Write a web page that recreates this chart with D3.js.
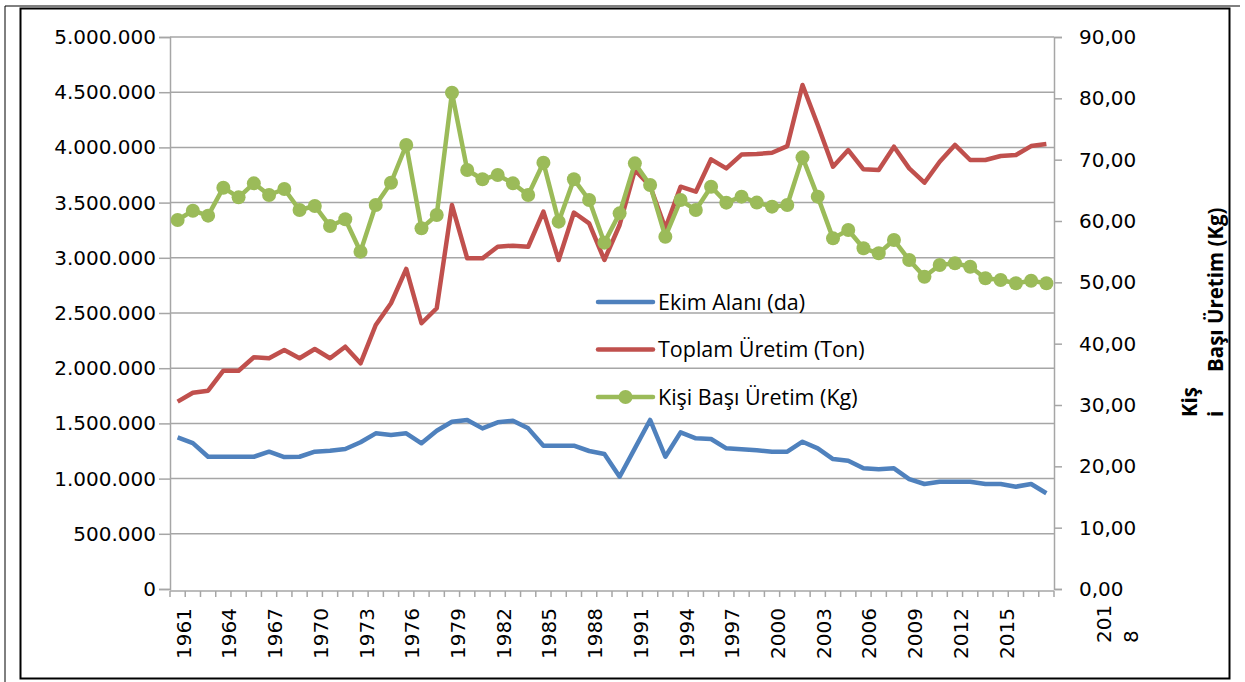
<!DOCTYPE html>
<html>
<head>
<meta charset="utf-8">
<script src="https://cdn.jsdelivr.net/npm/d3@7"></script>
<style>
  body { margin: 0; background: #fff; }
  svg { display: block; }
</style>
</head>
<body>
<svg id="chart" width="1245" height="682"></svg>
<script>
// years on the category axis
const years = d3.range(1961, 2019);

// Ekim Alanı (da) - left axis
const ekimAlani = [
  1374000, 1322000, 1198000, 1198000, 1198000, 1198000, 1244000, 1195000, 1198000, 1244000,
  1253000, 1268000, 1329000, 1410000, 1395000, 1410000, 1320000, 1434000, 1515000, 1531000,
  1455000, 1510000, 1525000, 1455000, 1298000, 1298000, 1298000, 1250000, 1223000, 1017000,
  1274000, 1531000, 1198000, 1419000, 1365000, 1359000, 1274000, 1265000, 1256000, 1244000,
  1244000, 1334000, 1274000, 1177000, 1162000, 1093000, 1084000, 1093000, 996000, 951000,
  972000, 972000, 972000, 951000, 951000, 927000, 951000, 867000
];

// Toplam Üretim (Ton) - left axis
const toplamUretim = [
  1697000, 1778000, 1796000, 1977000, 1977000, 2099000, 2090000, 2165000, 2090000, 2174000,
  2090000, 2195000, 2044000, 2391000, 2588000, 2899000, 2407000, 2543000, 3478000, 2995000,
  2995000, 3100000, 3110000, 3100000, 3418000, 2980000, 3410000, 3312000, 2980000, 3297000,
  3795000, 3650000, 3267000, 3644000, 3599000, 3892000, 3810000, 3935000, 3940000, 3952000,
  4012000, 4565000, 4203000, 3825000, 3976000, 3801000, 3795000, 4006000, 3810000, 3680000,
  3870000, 4022000, 3886000, 3886000, 3922000, 3931000, 4012000, 4031000
];

// Kişi Başı Üretim (Kg) - right axis
const kisiBasi = [
  60.16, 61.68, 60.87, 65.43, 63.86, 66.14, 64.24, 65.22, 61.79, 62.45,
  59.18, 60.28, 55.00, 62.61, 66.24, 72.39, 58.80, 60.98, 80.92, 68.31,
  66.80, 67.50, 66.14, 64.24, 69.51, 59.89, 66.80, 63.42, 56.47, 61.25,
  69.40, 65.87, 57.44, 63.42, 61.79, 65.59, 62.99, 63.97, 63.00, 62.34,
  62.61, 70.38, 63.97, 57.17, 58.53, 55.55, 54.73, 56.90, 53.64, 50.92,
  52.83, 53.10, 52.55, 50.66, 50.38, 49.84, 50.27, 49.84
];

const leftTicks = d3.range(0, 5000001, 500000);
const rightTicks = d3.range(0, 91, 10);
const labelYears = d3.range(1961, 2016, 3);

const seriesNames = ["Ekim Alanı (da)", "Toplam Üretim (Ton)", "Kişi Başı Üretim (Kg)"];
const seriesColors = ["#4f81bd", "#c0504d", "#9bbb59"];

const trLocale = d3.formatLocale({decimal: ",", thousands: ".", grouping: [3], currency: ["", ""]});
const fmtLeft = trLocale.format(",");
const fmtRight = trLocale.format(",.2f");

const plot = {left: 170, right: 1054, top: 37, bottom: 589};
const tickFont = "'DejaVu Sans', Verdana, sans-serif";
const textFont = "'Open Sans', Lato, sans-serif";

const svg = d3.select("#chart");

// frame
svg.append("rect")
   .attr("x", 20.5).attr("y", 8.5)
   .attr("width", 1209).attr("height", 670)
   .attr("fill", "none").attr("stroke", "#000").attr("stroke-width", 2);
svg.append("line")
   .attr("x1", 5).attr("x2", 1240).attr("y1", 6).attr("y2", 6)
   .attr("stroke", "#000").attr("stroke-width", 1);
svg.append("line")
   .attr("x1", 5).attr("x2", 5).attr("y1", 6).attr("y2", 682)
   .attr("stroke", "#000").attr("stroke-width", 1);

const x = d3.scaleBand(years, [plot.left, plot.right]).padding(0);
const cx = yr => x(yr) + x.bandwidth() / 2;
const yL = d3.scaleLinear([0, 5000000], [plot.bottom, plot.top]);
const yR = d3.scaleLinear([0, 90], [plot.bottom, plot.top]);

// gridlines
svg.append("g")
   .selectAll("line")
   .data(leftTicks.slice(1))
   .join("line")
   .attr("x1", plot.left).attr("x2", plot.right)
   .attr("y1", d => yL(d)).attr("y2", d => yL(d))
   .attr("stroke", "#a6a6a6").attr("stroke-width", 1.5);

// left axis
const gL = svg.append("g")
   .attr("transform", `translate(${plot.left},0)`)
   .call(d3.axisLeft(yL).tickValues(leftTicks).tickFormat(fmtLeft).tickSize(11).tickPadding(3));
gL.select(".domain").attr("stroke", "#a6a6a6").attr("stroke-width", 1.5);
gL.selectAll(".tick line").attr("stroke", "#a6a6a6").attr("stroke-width", 1.5);
gL.selectAll("text").attr("font-family", tickFont).attr("font-size", 20).attr("fill", "#000");

// right axis
const gR = svg.append("g")
   .attr("transform", `translate(${plot.right},0)`)
   .call(d3.axisRight(yR).tickValues(rightTicks).tickFormat(fmtRight).tickSize(8).tickPadding(17));
gR.select(".domain").attr("stroke", "#a6a6a6").attr("stroke-width", 1.5);
gR.selectAll(".tick line").attr("stroke", "#a6a6a6").attr("stroke-width", 1.5);
gR.selectAll("text").attr("font-family", tickFont).attr("font-size", 20).attr("fill", "#000");

// bottom axis: ticks on category boundaries
const gX = svg.append("g").attr("transform", `translate(0,${plot.bottom + 2})`);
gX.append("line")
  .attr("x1", plot.left).attr("x2", plot.right)
  .attr("stroke", "#a6a6a6").attr("stroke-width", 1.5);
gX.selectAll("line.tk")
  .data(years.concat([null]))
  .join("line")
  .attr("class", "tk")
  .attr("x1", d => d === null ? plot.right : x(d))
  .attr("x2", d => d === null ? plot.right : x(d))
  .attr("y1", 0).attr("y2", 6)
  .attr("stroke", "#a6a6a6").attr("stroke-width", 1.5);
gX.selectAll("text.yl")
  .data(labelYears)
  .join("text")
  .attr("class", "yl")
  .attr("transform", d => `translate(${cx(d) + 6},${17}) rotate(-90)`)
  .attr("dy", "0.35em")
  .attr("text-anchor", "end")
  .attr("font-family", tickFont).attr("font-size", 20)
  .text(d => d);
// last label wraps in the original
const last = gX.append("text")
  .attr("transform", `translate(${cx(2018) + 58},${52}) rotate(-90)`)
  .attr("dy", "0.35em")
  .attr("text-anchor", "start")
  .attr("font-family", tickFont).attr("font-size", 20);
last.append("tspan").attr("x", 0).text("201");
last.append("tspan").attr("x", 0).attr("dy", "1.35em").text("8");

// series lines
const lineL = d3.line().x((d, i) => cx(years[i])).y(d => yL(d));
const lineR = d3.line().x((d, i) => cx(years[i])).y(d => yR(d));

svg.append("path").datum(ekimAlani)
   .attr("d", lineL).attr("fill", "none")
   .attr("stroke", seriesColors[0]).attr("stroke-width", 4.5).attr("stroke-linejoin", "round");
svg.append("path").datum(toplamUretim)
   .attr("d", lineL).attr("fill", "none")
   .attr("stroke", seriesColors[1]).attr("stroke-width", 4.5).attr("stroke-linejoin", "round");
svg.append("path").datum(kisiBasi)
   .attr("d", lineR).attr("fill", "none")
   .attr("stroke", seriesColors[2]).attr("stroke-width", 4.5).attr("stroke-linejoin", "round");
svg.append("g")
   .selectAll("circle")
   .data(kisiBasi)
   .join("circle")
   .attr("cx", (d, i) => cx(years[i]))
   .attr("cy", d => yR(d))
   .attr("r", 7)
   .attr("fill", seriesColors[2]);

// legend
const leg = svg.append("g").attr("transform", "translate(598,302)");
seriesNames.forEach((name, i) => {
  const g = leg.append("g").attr("transform", `translate(0,${i * 47.5})`);
  g.append("line").attr("x1", 0).attr("x2", 55)
   .attr("stroke", seriesColors[i]).attr("stroke-width", 4.5).attr("stroke-linecap", "round");
  if (i === 2) g.append("circle").attr("cx", 27.5).attr("r", 7).attr("fill", seriesColors[i]);
  g.append("text").attr("x", 60).attr("dy", "0.36em")
   .attr("font-family", textFont).attr("font-size", 21.5).attr("fill", "#000")
   .text(name);
});

// right axis title, wrapped as in the original
const titleStyle = t => t.attr("dy", "0.35em")
   .attr("font-family", textFont).attr("font-weight", "bold").attr("font-size", 20.5);
svg.append("text")
   .attr("transform", "translate(1190,417) rotate(-90)")
   .call(titleStyle)
   .text("Kiş");
svg.append("text")
   .attr("transform", "translate(1216,417) rotate(-90)")
   .call(titleStyle)
   .text("i");
svg.append("text")
   .attr("transform", "translate(1216,372) rotate(-90)")
   .call(titleStyle)
   .text("Başı Üretim (Kg)");
</script>
</body>
</html>
